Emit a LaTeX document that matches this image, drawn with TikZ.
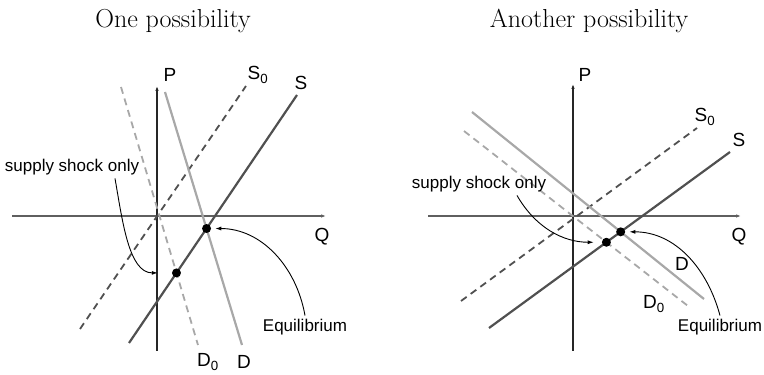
\documentclass[tikz,border=0pt]{standalone}
\usepackage{fontspec}
\setsansfont{Liberation Sans}
\usetikzlibrary{arrows.meta,intersections}
\definecolor{supplygray}{RGB}{80,80,80}
\definecolor{demandgray}{RGB}{168,168,168}
\definecolor{axisgray}{RGB}{95,95,95}

\begin{document}
\begin{tikzpicture}[x=1pt,y=1pt,
    every node/.style={font=\sffamily\fontsize{17}{20}\selectfont},
    letter/.style={font=\sffamily\fontsize{19}{22}\selectfont},
    title/.style={font=\rmfamily\fontsize{26}{30}\selectfont},
    curve/.style={line width=2.2pt},
    shifted/.style={line width=1.8pt,dash pattern=on 7pt off 5pt},
    haxis/.style={axisgray,line width=1.6pt,-{Latex[length=5pt,width=3.5pt]}},
    vaxis/.style={black!85,line width=1.1pt,-{Latex[length=5pt,width=3.5pt]}},
    note/.style={line width=0.9pt,-{Latex[length=6pt,width=4pt]}},
    dot/.style={circle,fill=black,inner sep=0pt,minimum size=9pt}]
  \useasboundingbox (0,0) rectangle (764,375);

  % one possibility
  \node[title] (titleA) at (173,354) {One possibility};
  \begin{scope}[shift={(157,159)}]
    \draw[haxis] (-145,0)--(169,0);
    \draw[vaxis] (0,-135)--(0,130);
    \node[letter] (PA) at (13,141) {P};
    \node[letter] (QA) at (165,-21) {Q};
    \draw[supplygray,shifted] (-77,-113)--(89,130);
    \draw[demandgray,shifted,name path=dzeroA] (-36,129)--(41,-129);
    \draw[demandgray,curve,name path=demandA] (8,124)--(85,-129);
    \draw[supplygray,curve,name path=supplyA] (-28,-127)--(140,121);
    \node[letter] (SzeroA) at (101,141) {S\textsubscript{0}};
    \node[letter] (SA) at (144,133) {S};
    \node[letter] (DzeroA) at (51,-146) {D\textsubscript{0}};
    \node[letter] (DA) at (87,-146) {D};
    \path[name intersections={of=supplyA and demandA,by=eqA}];
    \path[name intersections={of=supplyA and dzeroA,by=shA}];
    \node[dot] (eqdotA) at (eqA) {};
    \node[dot] (shdotA) at (shA) {};
    \node (shockA) at (-85,49) {supply shock only};
    \node (equilA) at (148,-111) {Equilibrium};
    \draw[note,shorten >=14pt] ([xshift=43pt]shockA.south)
      to[out=-80,in=180] (shdotA);
    \draw[note,shorten >=4pt] (equilA.north)
      to[out=100,in=0] (eqdotA);
  \end{scope}

  % another possibility
  \node[title] (titleB) at (589,354) {Another possibility};
  \begin{scope}[shift={(573,159)}]
    \draw[haxis] (-145,0)--(168,0);
    \draw[vaxis] (0,-135)--(0,132);
    \node[letter] (PB) at (12,141) {P};
    \node[letter] (QB) at (166,-21) {Q};
    \draw[supplygray,shifted] (-112,-85)--(124,88);
    \draw[demandgray,shifted,name path=dzeroB] (-109,85)--(115,-90);
    \draw[demandgray,curve,name path=demandB] (-101,104)--(131,-83);
    \draw[supplygray,curve,name path=supplyB] (-84,-112)--(157,64);
    \node[letter] (SzeroB) at (132,99) {S\textsubscript{0}};
    \node[letter] (SB) at (166,76) {S};
    \node[letter] (DB) at (109,-48) {D};
    \node[letter] (DzeroB) at (81,-88) {D\textsubscript{0}};
    \path[name intersections={of=supplyB and demandB,by=eqB}];
    \path[name intersections={of=supplyB and dzeroB,by=shB}];
    \node[dot] (eqdotB) at (eqB) {};
    \node[dot] (shdotB) at (shB) {};
    \node (shockB) at (-94,32) {supply shock only};
    \node (equilB) at (147,-111) {Equilibrium};
    \draw[note,shorten >=8pt] ([xshift=38pt]shockB.south)
      to[out=-60,in=180] (shdotB);
    \draw[note,shorten >=4pt] (equilB.north)
      to[out=105,in=0] (eqdotB);
  \end{scope}
\end{tikzpicture}
\end{document}
